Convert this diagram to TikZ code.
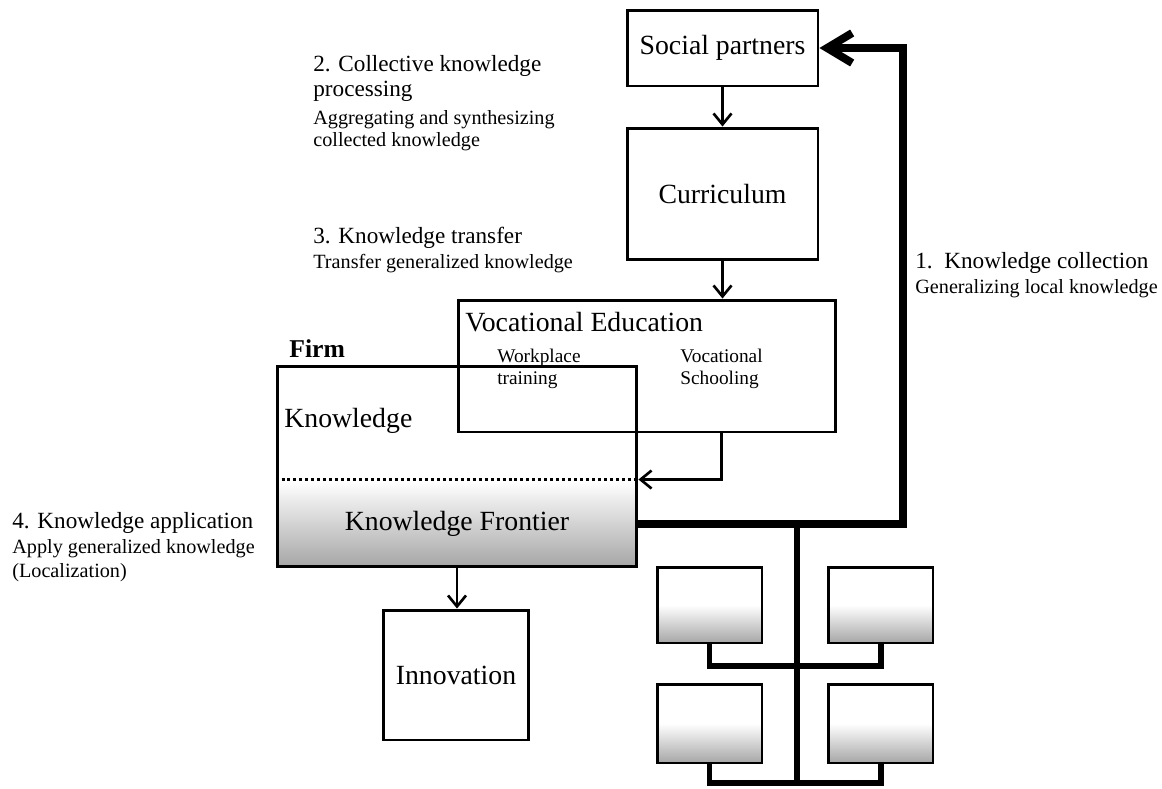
\documentclass[tikz,border=0pt]{standalone}
\usepackage{fontspec}
\setmainfont{Liberation Serif}
\usetikzlibrary{arrows.meta}

\begin{document}
\begin{tikzpicture}[x=0.02cm, y=-0.02cm]
\tikzstyle{bx}=[draw, line width=1.7pt, minimum width=3.82cm, inner sep=0pt, font=\fontsize{15.8}{18}\selectfont]
\tikzstyle{tx}=[draw=none, fill=none, inner sep=0pt, align=left, anchor=north west]
\tikzstyle{hd}=[font=\fontsize{13.2}{14}\selectfont]
\tikzstyle{ar}=[line width=1.5pt, -{Straight Barb[length=2.2mm, width=3.6mm]}]
\tikzstyle{bus}=[line width=4.5pt]
\tikzstyle{twig}=[line width=3.4pt]
\tikzstyle{pc}=[draw, line width=1.7pt, minimum width=2.1cm, top color=white, bottom color=gray!70, middle color=white]
\newcommand{\sub}{\fontsize{11.5}{14}\selectfont}

\useasboundingbox (0,0) rectangle (1162,788);

% boxes
\node[bx, minimum height=1.52cm] (SP) at (722.5,48) {Social partners};
\node[bx, minimum height=2.64cm] (CU) at (722.5,194) {Curriculum};
\node[bx, minimum width=7.56cm, minimum height=2.64cm] (VE) at (647,366) {};
\node[bx, draw=none, minimum width=7.2cm, minimum height=1.72cm, top color=white, bottom color=gray!70] (KF) at (457,524) {Knowledge Frontier};
\node[bx, minimum width=7.2cm, minimum height=4.02cm] (FI) at (457,466.5) {};
\node[bx, minimum width=2.9cm, minimum height=2.6cm] (IN) at (456,675) {Innovation};
\draw[line width=1.7pt, dash pattern=on 1.7pt off 1.7pt] (KF.north west) -- (KF.north east);

% texts in boxes
\node[tx, font=\fontsize{15.8}{18}\selectfont, anchor=west] (VEL) at (465,322) {Vocational Education};
\node[tx, font=\bfseries\fontsize{14.6}{16}\selectfont, anchor=base west] (FL) at (289,357) {Firm};
\node[tx, font=\fontsize{15.8}{18}\selectfont, anchor=base west] (KN) at (284,427) {Knowledge};
\node[tx, font=\fontsize{11}{12.5}\selectfont] (WT) at (497,349) {Workplace\\training};
\node[tx, font=\fontsize{11}{12.5}\selectfont] (VS) at (680,349) {Vocational\\Schooling};

% process labels
\node[tx, hd] (L2) at (313,55) {2. Collective knowledge\\processing\\[2pt]{\sub Aggregating and synthesizing}\\[-1.5pt]{\sub collected knowledge}};
\node[tx, hd] (L3) at (313,227) {3. Knowledge transfer\\{\sub Transfer generalized knowledge}};
\node[tx, hd] (L1) at (915,252) {1.\ \ Knowledge collection\\{\sub Generalizing local knowledge}};
\node[tx, hd] (L4) at (12,512) {4. Knowledge application\\{\sub Apply generalized knowledge}\\{\sub (Localization)}};

% small boxes
\node[pc, minimum height=1.52cm] (P1) at (709.5,605) {};
\node[pc, minimum height=1.52cm] (P2) at (880.5,605) {};
\node[pc, minimum height=1.58cm] (P3) at (709.5,723.5) {};
\node[pc, minimum height=1.58cm] (P4) at (880.5,723.5) {};

\coordinate (rt) at (903,524);
\coordinate (j1) at (797,524);
\coordinate (j2) at (797,666);
\coordinate (j3) at (797,783);

% arrows
\draw[ar] (SP) -- (CU);
\draw[ar] (CU.south) -- (CU.south |- VE.north);
\draw[ar] (VE.south -| VS) |- (FI.east |- KF.north);
\draw[ar] (FI.south) -- (FI.south |- IN.north);

% network
\draw[bus, -{Straight Barb[length=5mm, width=6mm]}] (FI.east |- rt) -- (rt) |- (SP.east);
\draw[twig] (j1) -- (j3);
\draw[twig] (P1.south) |- (j2) -| (P2.south);
\draw[twig] (P3.south) |- (j3) -| (P4.south);
\end{tikzpicture}
\end{document}
